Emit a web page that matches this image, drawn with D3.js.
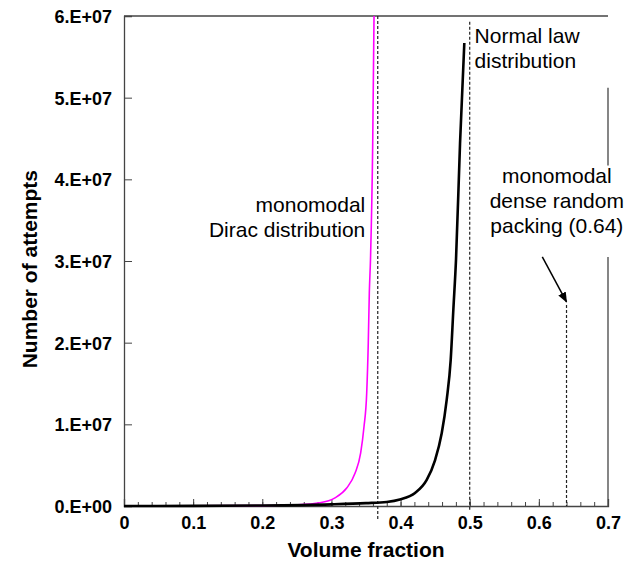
<!DOCTYPE html>
<html>
<head>
<meta charset="utf-8">
<script src="https://cdn.jsdelivr.net/npm/d3@7"></script>
<style>
  body { margin: 0; background: #fff; }
  svg { font-family: Arial, "Liberation Sans", sans-serif; }
</style>
</head>
<body>
<svg id="chart" width="634" height="564"></svg>
<script>
/**
 * Data (y values in units of 1E+07 attempts).
 */
const diracX = [0.01, 0.1, 0.2, 0.25, 0.2835, 0.3052, 0.3221, 0.3341, 0.3423, 0.3471, 0.351, 0.3533, 0.3548, 0.3565, 0.3597, 0.3616];
const diracY = [0, 0.001, 0.005, 0.015, 0.04, 0.10, 0.22, 0.40, 0.65, 0.97, 1.38, 2.00, 2.61, 3.02, 4.44, 6.0];

const normalX = [0.0, 0.1, 0.2, 0.3, 0.35, 0.38, 0.399, 0.4209, 0.4378, 0.4498, 0.4595, 0.4667, 0.4725, 0.4763, 0.4802, 0.486, 0.4922];
const normalY = [0, 0.002, 0.006, 0.02, 0.035, 0.05, 0.08, 0.16, 0.32, 0.56, 0.89, 1.30, 1.79, 2.40, 3.02, 4.44, 5.67];

const xMajorTicks = [0, 0.1, 0.2, 0.3, 0.4, 0.5, 0.6, 0.7];
const xMinorTicks = d3.range(0, 71, 2).map(d => d / 100);
const yTicks = [0, 1, 2, 3, 4, 5, 6];

// Reference lines: x position, top value, bottom value (below 0 = below axis)
const refLines = [
    { x: 0.367, top: 6.0, bottom: -0.17 },
    { x: 0.5, top: 5.93, bottom: -0.05 },
    { x: 0.64, top: 2.46, bottom: 0 }
];

/**
 * Layout.
 */
const margin = { top: 16, right: 26, bottom: 58, left: 124 };
const svg = d3.select('#chart');
const width = +svg.attr('width') - margin.left - margin.right,
    height = +svg.attr('height') - margin.top - margin.bottom;

const g = svg.append('g').attr('transform', `translate(${margin.left},${margin.top})`);

const x = d3.scaleLinear().domain([0, 0.7]).range([0, width]);
const y = d3.scaleLinear().domain([0, 6]).range([height, 0]);

const axisColor = '#444';

/**
 * Frame: top and (broken) right border.
 */
g.append('line')
    .attr('x1', 0).attr('x2', width).attr('y1', 0).attr('y2', 0)
    .attr('stroke', axisColor).attr('stroke-width', 1.3);
[[5.12, 4.17], [3.05, 0]].forEach(([a, b]) => {
    g.append('line')
        .attr('x1', width).attr('x2', width)
        .attr('y1', y(a)).attr('y2', y(b))
        .attr('stroke', axisColor).attr('stroke-width', 1.3);
});

/**
 * Axes.
 */
const xMinorAxis = d3.axisBottom(x).tickValues(xMinorTicks).tickSize(-4).tickFormat('');
const xAxis = d3.axisBottom(x).tickValues(xMajorTicks).tickSize(-7).tickPadding(14)
    .tickFormat(d => d === 0 ? '0' : d3.format('.1f')(d));
const yAxis = d3.axisLeft(y).tickValues(yTicks).tickSize(-8).tickPadding(12)
    .tickFormat(d => d === 0 ? '0.E+00' : `${d}.E+07`);

const xMinor = g.append('g').attr('transform', `translate(0,${height})`).call(xMinorAxis);
xMinor.select('.domain').remove();
xMinor.selectAll('line').attr('stroke', axisColor);

const xG = g.append('g').attr('transform', `translate(0,${height})`).call(xAxis);
const yG = g.append('g').call(yAxis);

[xG, yG].forEach(a => {
    a.select('.domain').attr('stroke', axisColor).attr('stroke-width', 1.3);
    a.selectAll('line').attr('stroke', axisColor);
    a.selectAll('text')
        .attr('fill', '#000')
        .style('font-size', '18px')
        .style('font-weight', 'bold');
});
xG.selectAll('text').attr('dy', '0.71em').attr('y', 10);
yG.selectAll('text').attr('dy', '0.36em');

/**
 * Reference dashed lines.
 */
g.append('g').selectAll('line')
    .data(refLines)
    .join('line')
        .attr('x1', d => x(d.x)).attr('x2', d => x(d.x))
        .attr('y1', d => y(d.top)).attr('y2', d => y(d.bottom))
        .attr('stroke', '#222')
        .attr('stroke-width', 1.2)
        .attr('stroke-dasharray', '3,2');

/**
 * Curves.
 */
const line = d3.line()
    .x(d => x(d[0]))
    .y(d => y(d[1]))
    .curve(d3.curveMonotoneX);

g.append('path')
    .datum(diracX.map((v, i) => [v, diracY[i]]))
    .attr('fill', 'none')
    .attr('stroke', '#ff00ff')
    .attr('stroke-width', 1.6)
    .attr('d', line);

g.append('path')
    .datum(normalX.map((v, i) => [v, normalY[i]]))
    .attr('fill', 'none')
    .attr('stroke', '#000')
    .attr('stroke-width', 2.6)
    .attr('d', line);

/**
 * Arrow annotation.
 */
svg.append('defs').append('marker')
    .attr('id', 'arrow')
    .attr('viewBox', '0 0 10 10')
    .attr('refX', 9).attr('refY', 5)
    .attr('markerWidth', 7).attr('markerHeight', 7)
    .attr('orient', 'auto')
    .append('path')
        .attr('d', 'M0,1 L10,5 L0,9 Z')
        .attr('fill', '#000');

g.append('line')
    .attr('x1', x(0.605)).attr('y1', y(3.05))
    .attr('x2', x(0.64)).attr('y2', y(2.5))
    .attr('stroke', '#000')
    .attr('stroke-width', 1.5)
    .attr('marker-end', 'url(#arrow)');

/**
 * Text annotations.
 */
function multiline(lines, tx, ty, anchor) {
    const t = g.append('text')
        .attr('text-anchor', anchor)
        .style('font-size', '21px')
        .attr('fill', '#000');
    lines.forEach((s, i) => {
        t.append('tspan').attr('x', tx).attr('y', ty + i * 25).text(s);
    });
}
multiline(['monomodal', 'Dirac distribution'], x(0.349), y(3.6), 'end');
multiline(['Normal law', 'distribution'], x(0.507), y(5.67), 'start');
multiline(['monomodal', 'dense random', 'packing (0.64)'], x(0.626), y(3.96), 'middle');

/**
 * Axis titles.
 */
svg.append('text')
    .attr('x', margin.left + x(0.35))
    .attr('y', 557)
    .attr('text-anchor', 'middle')
    .style('font-size', '21px')
    .style('font-weight', 'bold')
    .text('Volume fraction');

svg.append('text')
    .attr('transform', `translate(37,${margin.top + y(2.9)}) rotate(-90)`)
    .attr('text-anchor', 'middle')
    .style('font-size', '21px')
    .style('font-weight', 'bold')
    .text('Number of attempts');
</script>
</body>
</html>
